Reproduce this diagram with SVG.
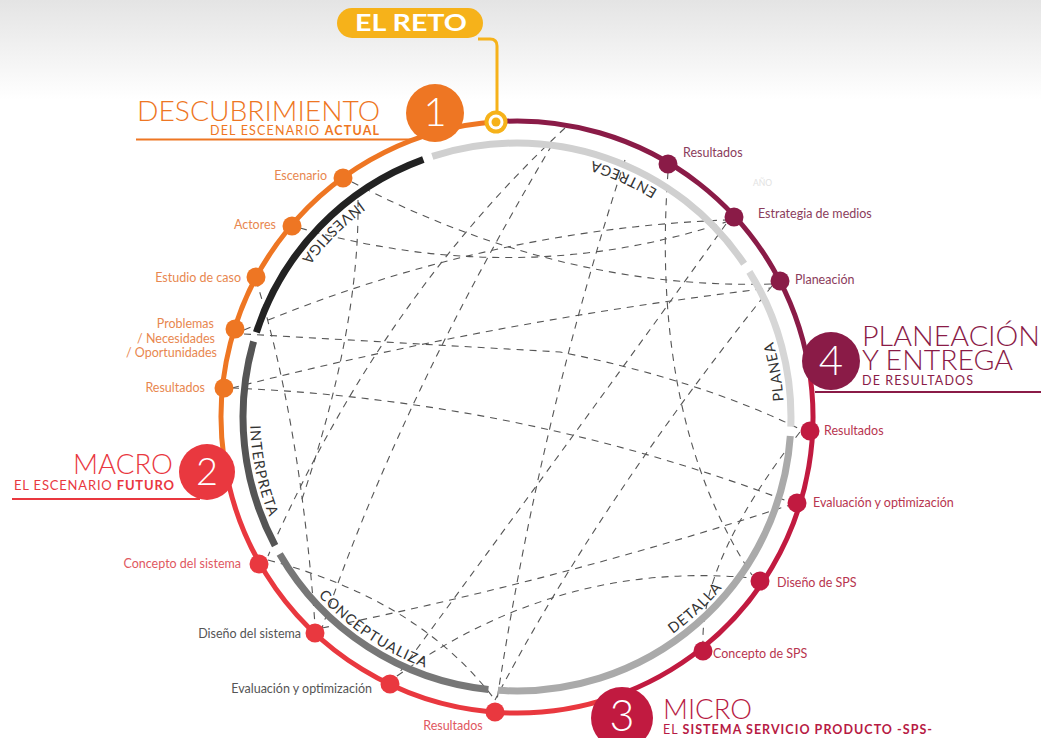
<svg xmlns="http://www.w3.org/2000/svg" width="1041" height="738" viewBox="0 0 1041 738">
<defs>
<linearGradient id="bg" x1="0" y1="0" x2="0" y2="1">
<stop offset="0" stop-color="#e4e4e4"/>
<stop offset="1" stop-color="#ffffff"/>
</linearGradient>
<path id="pInv" d="M 493.7 151 A 267 267 0 0 0 251 393.7"/>
<path id="pInt" d="M 281.3 291.6 A 267 267 0 0 0 352.6 627.4"/>
<path id="pCon" d="M 260.3 490.6 A 267 267 0 0 0 544.9 682.5"/>
<path id="pDet" d="M 531 683.6 A 267 267 0 0 0 782 449.5"/>
<path id="pPla" d="M 748.2 550.5 A 267 267 0 0 0 688.6 212.5"/>
<path id="pEnt" d="M 757 299.9 A 267 267 0 0 0 443.4 160.3"/>
</defs>
<style>
.t{font-family:Lato,"Open Sans","DejaVu Sans",sans-serif}
.lbl{font-family:Lato,"Open Sans","DejaVu Sans",sans-serif;font-size:12.5px}
.arc{font-family:Lato,"Open Sans","DejaVu Sans",sans-serif;font-size:14.5px;font-weight:400;fill:#333;letter-spacing:1px}
.dash{fill:none;stroke:#555;stroke-width:1.1;stroke-dasharray:7 6}
.ring{fill:none;stroke-width:5}
.inner{fill:none;stroke-width:7}
.num{font-family:Lato,"Open Sans","DejaVu Sans",sans-serif;font-weight:300;fill:#fff;text-anchor:middle}
.or{fill:#EE7623}.rd{fill:#E9383F}.cr{fill:#C11A40}.mr{fill:#8A1B47}
</style>
<rect x="0" y="0" width="1041" height="100" fill="url(#bg)"/>

<g id="connectors">
<path class="dash" d="M 352 182 Q 560 290 772 284"/>
<path class="dash" d="M 300 228 Q 520 290 726 222"/>
<path class="dash" d="M 244 330 Q 480 230 726 220"/>
<path class="dash" d="M 244 334 L 560 352 Q 700 380 802 430"/>
<path class="dash" d="M 232 388 Q 500 320 770 288"/>
<path class="dash" d="M 232 388 Q 520 400 790 502"/>
<path class="dash" d="M 565 128 Q 380 300 268 556"/>
<path class="dash" d="M 552 145 Q 400 400 322 628"/>
<path class="dash" d="M 625 160 Q 540 420 497 700"/>
<path class="dash" d="M 668 172 Q 650 420 752 575"/>
<path class="dash" d="M 726 224 Q 600 400 397 676"/>
<path class="dash" d="M 772 286 Q 600 500 495 700"/>
<path class="dash" d="M 358 200 Q 360 330 300 505"/>
<path class="dash" d="M 256 280 Q 300 420 315 625"/>
<path class="dash" d="M 268 560 Q 420 600 495 700"/>
<path class="dash" d="M 322 628 Q 560 580 790 505"/>
<path class="dash" d="M 397 676 Q 560 560 752 578"/>
<path class="dash" d="M 800 432 Q 700 560 703 645"/>
</g>

<g id="inner-ring">
<path class="inner" stroke="#222" d="M 256.4 332.3 A 274 274 0 0 1 423.3 159.5"/>
<path class="inner" stroke="#d0d0d0" d="M 432.3 156.4 A 274 274 0 0 1 744.1 263.8"/>
<path class="inner" stroke="#d6d6d6" d="M 749.4 271.8 A 274 274 0 0 1 790.8 426.6"/>
<path class="inner" stroke="#aaaaaa" d="M 790.3 436.1 A 274 274 0 0 1 497.9 690.3"/>
<path class="inner" stroke="#777777" d="M 488.4 689.5 A 274 274 0 0 1 279.7 554"/>
<path class="inner" stroke="#555555" d="M 275.1 545.6 A 274 274 0 0 1 253.6 341.5"/>
</g>

<g id="phase-labels">
<text class="arc"><textPath href="#pInv" startOffset="50%" text-anchor="middle">INVESTIGA</textPath></text>
<text class="arc"><textPath href="#pInt" startOffset="50%" text-anchor="middle">INTERPRETA</textPath></text>
<text class="arc"><textPath href="#pCon" startOffset="50%" text-anchor="middle">CONCEPTUALIZA</textPath></text>
<text class="arc"><textPath href="#pDet" startOffset="50%" text-anchor="middle">DETALLA</textPath></text>
<text class="arc"><textPath href="#pPla" startOffset="50%" text-anchor="middle">PLANEA</textPath></text>
<text class="arc"><textPath href="#pEnt" startOffset="50%" text-anchor="middle">ENTREGA</textPath></text>
</g>

<g id="outer-ring">
<path class="ring" stroke="#EE7623" d="M 223.9 458.2 A 296 296 0 0 1 495.8 121.8"/>
<path class="ring" stroke="#E9383F" d="M 613.4 696.9 A 296 296 0 0 1 223.9 458.2"/>
<path class="ring" stroke="#C11A40" d="M 808.5 365.6 A 296 296 0 0 1 613.4 696.9"/>
<path class="ring" stroke="#8A1B47" d="M 495.8 121.8 A 296 296 0 0 1 808.5 365.6"/>
</g>

<g id="reto">
<rect x="337" y="8" width="146" height="30" rx="15" fill="#F6B21A"/>
<text class="t" x="355" y="31" font-size="23" font-weight="bold" fill="#fff" textLength="112" lengthAdjust="spacingAndGlyphs">EL RETO</text>
<path d="M 478 39 H 490 Q 497 39 497 46 V 111" fill="none" stroke="#F6B21A" stroke-width="3"/>
<circle cx="496" cy="122" r="11.5" fill="#F6B21A"/>
<circle cx="496" cy="122" r="7.5" fill="#fff"/>
<circle cx="496" cy="122" r="4.5" fill="#F6B21A"/>
</g>

<g id="fase1">
<line x1="136" y1="139.5" x2="412" y2="139.5" stroke="#EE7623" stroke-width="2"/>
<circle cx="435" cy="113" r="29" class="or"/>
<text class="num" x="435" y="126" font-size="40">1</text>
<text class="t" x="137" y="121" font-size="28" font-weight="300" fill="#EE7623" textLength="243" lengthAdjust="spacingAndGlyphs">DESCUBRIMIENTO</text>
<text class="t" x="210" y="134.5" font-size="12.5" fill="#EE7623" textLength="169" lengthAdjust="spacing">DEL ESCENARIO <tspan font-weight="bold">ACTUAL</tspan></text>
</g>

<g id="fase2">
<line x1="12" y1="499" x2="200" y2="499" stroke="#E9383F" stroke-width="2"/>
<circle cx="207" cy="472" r="28" class="rd"/>
<text class="num" x="207" y="485" font-size="38">2</text>
<text class="t" x="73" y="474" font-size="28" font-weight="300" fill="#E9383F" textLength="100" lengthAdjust="spacingAndGlyphs">MACRO</text>
<text class="t" x="14" y="489.5" font-size="13" fill="#E9383F" textLength="160" lengthAdjust="spacing">EL ESCENARIO <tspan font-weight="bold">FUTURO</tspan></text>
</g>

<g id="fase3">
<circle cx="622" cy="718" r="31" class="cr"/>
<text class="num" x="622" y="731" font-size="43">3</text>
<text class="t" x="663" y="719" font-size="27" font-weight="300" fill="#B71B44" textLength="89" lengthAdjust="spacingAndGlyphs">MICRO</text>
<text class="t" x="663" y="734" font-size="12.5" fill="#B71B44" textLength="269" lengthAdjust="spacing">EL <tspan font-weight="bold">SISTEMA SERVICIO PRODUCTO -SPS-</tspan></text>
</g>

<g id="fase4">
<line x1="815" y1="392" x2="1041" y2="392" stroke="#8A1B47" stroke-width="2"/>
<circle cx="831" cy="361" r="29" class="mr"/>
<text class="num" x="831" y="375" font-size="42">4</text>
<text class="t" x="862" y="346" font-size="27" font-weight="300" fill="#8A1B47" textLength="178" lengthAdjust="spacingAndGlyphs">PLANEACIÓN</text>
<text class="t" x="862" y="370" font-size="27" font-weight="300" fill="#8A1B47" textLength="151" lengthAdjust="spacingAndGlyphs">Y ENTREGA</text>
<text class="t" x="862" y="385" font-size="12.5" fill="#8A1B47" textLength="111" lengthAdjust="spacing">DE RESULTADOS</text>
</g>

<g id="n-escenario"><circle cx="343" cy="178" r="9.5" class="or"/><text class="lbl" x="327" y="180" fill="#E8874F" text-anchor="end">Escenario</text></g>
<g id="n-actores"><circle cx="292" cy="226" r="9.5" class="or"/><text class="lbl" x="276" y="229" fill="#E8874F" text-anchor="end">Actores</text></g>
<g id="n-estudio"><circle cx="256" cy="277" r="9.5" class="or"/><text class="lbl" x="241" y="282" fill="#E8874F" text-anchor="end">Estudio de caso</text></g>
<g id="n-problemas"><circle cx="235" cy="329" r="9.5" class="or"/><text class="lbl" fill="#E8874F" text-anchor="end"><tspan x="214" y="328">Problemas</tspan><tspan x="215" y="343">/ Necesidades</tspan><tspan x="217" y="357">/ Oportunidades</tspan></text></g>
<g id="n-resultados1"><circle cx="224" cy="388" r="9.5" class="or"/><text class="lbl" x="205" y="392" fill="#E8874F" text-anchor="end">Resultados</text></g>

<g id="n-concepto-sistema"><circle cx="259" cy="564" r="9.5" class="rd"/><text class="lbl" x="241" y="568" fill="#E0585F" text-anchor="end">Concepto del sistema</text></g>
<g id="n-diseno-sistema"><circle cx="315" cy="633" r="9.5" class="rd"/><text class="lbl" x="301" y="638" fill="#555" text-anchor="end">Diseño del sistema</text></g>
<g id="n-evaluacion1"><circle cx="390" cy="684" r="9.5" class="rd"/><text class="lbl" x="372" y="693" fill="#555" text-anchor="end">Evaluación y optimización</text></g>
<g id="n-resultados2"><circle cx="495" cy="712" r="9.5" class="rd"/><text class="lbl" x="453" y="730" fill="#E0585F" text-anchor="middle">Resultados</text></g>

<g id="n-concepto-sps"><circle cx="703" cy="651" r="9.5" class="cr"/><text class="lbl" x="713" y="658" fill="#B8354F">Concepto de SPS</text></g>
<g id="n-diseno-sps"><circle cx="760" cy="581" r="9.5" class="cr"/><text class="lbl" x="777" y="587" fill="#B8354F">Diseño de SPS</text></g>
<g id="n-evaluacion2"><circle cx="797" cy="503" r="9.5" class="cr"/><text class="lbl" x="813" y="507" fill="#B8354F">Evaluación y optimización</text></g>
<g id="n-resultados3"><circle cx="810" cy="431" r="9.5" class="cr"/><text class="lbl" x="824" y="435" fill="#B8354F">Resultados</text></g>

<g id="n-planeacion"><circle cx="780" cy="281" r="9.5" class="mr"/><text class="lbl" x="795" y="284" fill="#8B3C5C">Planeación</text></g>
<g id="n-estrategia"><circle cx="734" cy="217" r="9.5" class="mr"/><text class="lbl" x="758" y="218" fill="#8B3C5C">Estrategia de medios</text></g>
<g id="n-resultados4"><circle cx="668" cy="164" r="9.5" class="mr"/><text class="lbl" x="683" y="157" fill="#8B3C5C">Resultados</text></g>
<text class="t" x="753" y="186" font-size="8.5" fill="#e2e2e2">AÑO</text>
</svg>
